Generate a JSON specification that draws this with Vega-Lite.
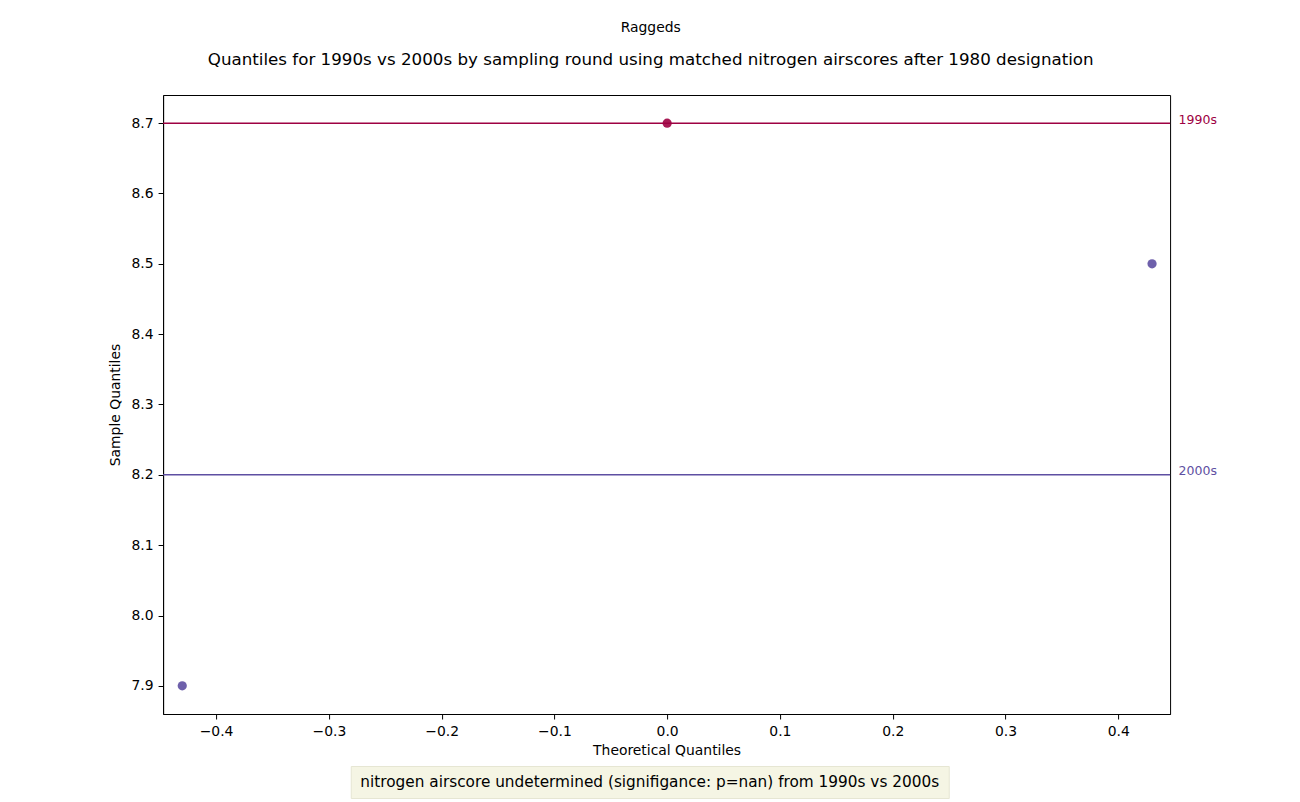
{
  "$schema": "https://vega.github.io/schema/vega-lite/v6.json",
  "background": "white",
  "padding": {"left": 108, "top": 20, "right": 0, "bottom": 0},
  "autosize": {"type": "pad"},
  "datasets": {
    "points": [
      {"group": "1990s", "theoretical": 0.0, "sample": 8.7},
      {"group": "2000s", "theoretical": -0.43, "sample": 7.9},
      {"group": "2000s", "theoretical": 0.43, "sample": 8.5}
    ],
    "means": [
      {"group": "1990s", "mean": 8.7},
      {"group": "2000s", "mean": 8.2}
    ],
    "note": [
      {"label": "nitrogen airscore undetermined (signifigance: p=nan) from 1990s vs 2000s"}
    ]
  },
  "title": {
    "text": "Raggeds",
    "subtitle": "Quantiles for 1990s vs 2000s by sampling round using matched nitrogen airscores after 1980 designation",
    "font": "DejaVu Sans",
    "fontSize": 13.9,
    "fontWeight": "normal",
    "color": "black",
    "subtitleFont": "DejaVu Sans",
    "subtitleFontSize": 16.7,
    "subtitleColor": "black",
    "subtitlePadding": 17,
    "offset": 26,
    "anchor": "middle",
    "dx": -12
  },
  "config": {
    "font": "DejaVu Sans",
    "view": {"stroke": "black", "strokeWidth": 1},
    "axis": {
      "grid": false,
      "domainColor": "black",
      "tickColor": "black",
      "labelColor": "black",
      "titleColor": "black",
      "labelFont": "DejaVu Sans",
      "titleFont": "DejaVu Sans",
      "labelFontSize": 13.9,
      "titleFontSize": 13.9,
      "titleFontWeight": "normal",
      "tickSize": 5,
      "labelPadding": 5
    }
  },
  "vconcat": [
    {
      "width": 1007,
      "height": 619,
      "layer": [
        {
          "data": {"name": "means"},
          "mark": {"type": "rule", "strokeWidth": 1.5},
          "encoding": {
            "y": {
              "field": "mean",
              "type": "quantitative",
              "scale": {"domain": [7.86, 8.74], "nice": false, "zero": false},
              "axis": {
                "orient": "right",
                "values": [8.2, 8.7],
                "labelExpr": "datum.value > 8.5 ? '1990s' : '2000s'",
                "ticks": false,
                "domain": false,
                "title": null,
                "labelFontSize": 12.5,
                "labelPadding": 8,
                "labelOffset": -4,
                "labelColor": {"condition": {"test": "datum.value > 8.5", "value": "#9e0142"}, "value": "#5e4fa2"}
              }
            },
            "color": {
              "field": "group",
              "type": "nominal",
              "scale": {"domain": ["1990s", "2000s"], "range": ["#9e0142", "#5e4fa2"]},
              "legend": null
            }
          }
        },
        {
          "data": {"name": "points"},
          "mark": {"type": "circle", "size": 85, "opacity": 0.9},
          "encoding": {
            "x": {
              "field": "theoretical",
              "type": "quantitative",
              "scale": {"domain": [-0.447, 0.446], "nice": false, "zero": false},
              "axis": {
                "title": "Theoretical Quantiles",
                "values": [-0.4, -0.3, -0.2, -0.1, 0.0, 0.1, 0.2, 0.3, 0.4],
                "format": ".1f",
                "titlePadding": 6
              }
            },
            "y": {
              "field": "sample",
              "type": "quantitative",
              "scale": {"domain": [7.86, 8.74], "nice": false, "zero": false},
              "axis": {
                "orient": "left",
                "title": "Sample Quantiles",
                "values": [7.9, 8.0, 8.1, 8.2, 8.3, 8.4, 8.5, 8.6, 8.7],
                "format": ".1f",
                "titlePadding": 8
              }
            },
            "color": {
              "field": "group",
              "type": "nominal",
              "scale": {"domain": ["1990s", "2000s"], "range": ["#9e0142", "#5e4fa2"]},
              "legend": null
            }
          }
        }
      ],
      "resolve": {"axis": {"y": "independent"}}
    },
    {
      "width": 598,
      "height": 32,
      "view": {"fill": "#f5f5e4", "stroke": "#e6e6d3", "strokeWidth": 1},
      "title": {"text": "M", "orient": "right", "fontSize": 14, "color": "transparent", "offset": 66},
      "data": {"name": "note"},
      "mark": {"type": "text", "font": "DejaVu Sans", "fontSize": 15.3, "color": "black", "align": "center", "baseline": "middle"},
      "encoding": {
        "text": {"field": "label", "type": "nominal"}
      }
    }
  ],
  "spacing": 6,
  "center": true
}
